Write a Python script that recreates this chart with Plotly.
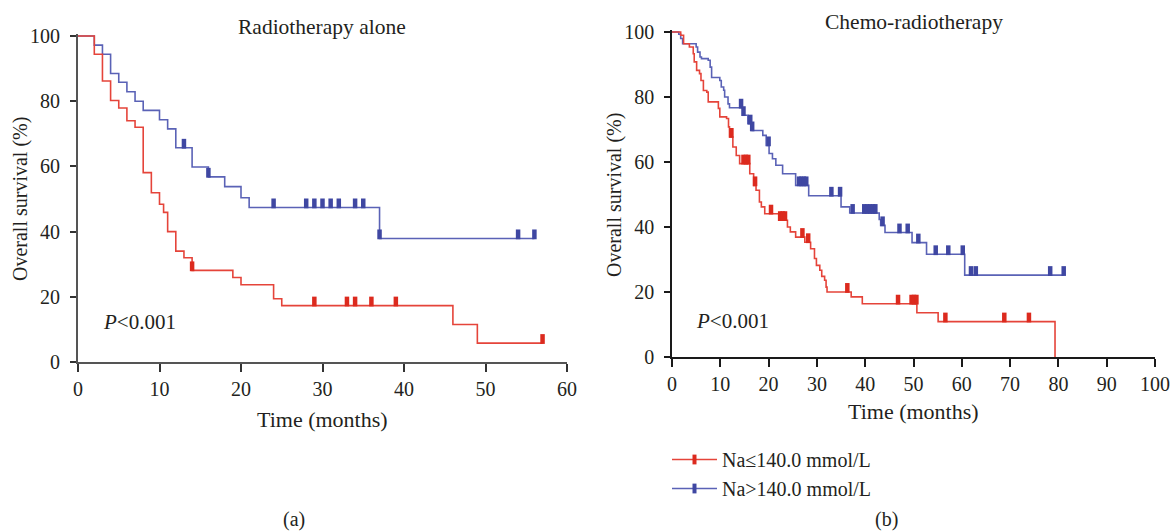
import plotly.graph_objects as go
from bisect import bisect_right

# ---------------- data ----------------
# Radiotherapy alone, Na<=140.0 mmol/L
rt_low_t = [0, 2, 3, 4, 5, 6, 7, 8, 9, 10, 10.5, 11, 12, 13, 14, 19, 20, 24, 25, 46, 49]
rt_low_s = [100, 94.4, 86.2, 80.2, 77.9, 74.0, 72.0, 58.1, 51.9, 48.4, 45.9, 40.0,
            34.0, 32.0, 28.1, 25.9, 23.7, 19.4, 17.3, 11.5, 5.8]
rt_low_cens = [14, 29, 33, 34, 36, 39, 57]
rt_low_end = 57

# Radiotherapy alone, Na>140.0 mmol/L
rt_high_t = [0, 2, 3, 4, 5, 6, 7, 8, 10, 11, 12, 14, 16, 18, 20, 21, 37]
rt_high_s = [100, 97.2, 94.4, 88.5, 85.8, 82.9, 80.0, 77.2, 74.3, 71.5, 65.7, 59.8,
             56.8, 53.8, 50.4, 47.4, 37.9]
rt_high_cens = [13, 16, 24, 28, 29, 30, 31, 32, 34, 35, 37, 54, 56]
rt_high_end = 56

# Chemo-radiotherapy, Na<=140.0 mmol/L
cr_low_t = [0, 1.8, 2.4, 3.6, 4.4, 4.6, 5.1, 5.7, 6.0, 6.5, 7.2, 7.5, 9.6, 9.9, 11.3,
            11.7, 11.9, 12.6, 13.3, 14.0, 16.1, 16.9, 17.4, 18.1, 18.5, 19.2, 22.1,
            23.9, 24.5, 25.6, 27.5, 28.7, 29.5, 29.9, 30.6, 31.0, 31.6, 31.9, 32.1,
            37.1, 39.4, 50.7, 55.1, 79.3]
cr_low_s = [100, 99.0, 96.4, 95.4, 93.3, 90.8, 88.2, 87.2, 85.1, 82.0, 81.5, 78.5, 76.5,
            73.9, 73.4, 70.8, 67.7, 64.6, 62.0, 59.5, 56.4, 52.8, 51.3, 47.7, 46.2, 44.1,
            42.1, 40.0, 38.5, 36.9, 35.3, 33.3, 30.3, 28.2, 26.7, 24.8, 23.6, 21.5, 20.0,
            18.5, 16.4, 13.6, 10.9, 0]
cr_low_cens = [12.3, 14.8, 15.3, 15.8, 17.2, 20.5, 22.4, 22.9, 23.4, 27.0, 28.2, 36.3,
               46.8, 49.6, 50.1, 50.6, 56.6, 68.8, 73.9]
cr_low_end = 79.3

# Chemo-radiotherapy, Na>140.0 mmol/L
cr_high_t = [0, 1.4, 1.8, 2.2, 5.0, 5.3, 5.8, 6.1, 7.5, 7.9, 8.2, 9.9, 10.2, 10.7, 10.9,
             11.6, 11.9, 14.7, 15.7, 16.6, 18.8, 19.5, 20.1, 20.8, 21.5, 22.9, 25.6,
             28.3, 35.0, 36.8, 42.9, 43.2, 44.1, 49.7, 52.7, 60.6]
cr_high_s = [100, 99.3, 98.0, 96.4, 95.4, 93.8, 92.3, 91.8, 91.3, 89.2, 86.0, 85.1, 83.1,
             82.1, 80.0, 77.9, 76.7, 74.4, 71.8, 69.7, 68.2, 65.1, 62.6, 61.0, 59.0, 56.4,
             52.8, 49.6, 46.2, 44.3, 42.3, 40.5, 38.3, 35.2, 31.6, 25.2]
cr_high_cens = [14.3, 14.8, 16.2, 16.6, 20.0, 26.3, 26.8, 27.3, 27.8, 33.0, 34.8, 37.4,
                39.8, 40.4, 41.0, 41.6, 42.1, 43.6, 47.1, 48.8, 51.0, 54.6, 57.2, 60.2,
                61.9, 62.9, 78.3, 81.1]
cr_high_end = 81.1

group_names = ["Na≤140.0 mmol/L", "Na>140.0 mmol/L"]
x_ticks_a = [0, 10, 20, 30, 40, 50, 60]
x_ticks_b = [0, 10, 20, 30, 40, 50, 60, 70, 80, 90, 100]
y_ticks = [0, 20, 40, 60, 80, 100]

# ---------------- styling ----------------
W, H = 1172, 531
FONT = "Liberation Serif"
TXT = "#231f20"
RED_LINE, RED_MARK = "#e5443a", "#dc2a1e"
BLUE_LINE, BLUE_MARK = "#5a62b6", "#3f47a2"
MARK_LIFT = 1.25  # censor ticks sit just above the curve (survival units)


def surv_at(times, surv, t):
    return surv[bisect_right(times, t) - 1]


def curve_traces(times, surv, cens, end, line_col, mark_col, xa, ya):
    xs = list(times) + ([end] if end > times[-1] else [])
    ys = list(surv) + ([surv[-1]] if end > times[-1] else [])
    line = go.Scatter(x=xs, y=ys, mode="lines", line=dict(color=line_col, width=1.6, shape="hv"),
                      xaxis=xa, yaxis=ya, showlegend=False, hoverinfo="skip")
    marks = go.Scatter(x=cens, y=[surv_at(times, surv, c) + MARK_LIFT for c in cens],
                       mode="markers",
                       marker=dict(symbol="line-ns", size=7, line=dict(color=mark_col, width=4.5)),
                       xaxis=xa, yaxis=ya, showlegend=False, hoverinfo="skip", cliponaxis=False)
    return [line, marks]


fig = go.Figure()
for tr in (curve_traces(rt_high_t, rt_high_s, rt_high_cens, rt_high_end, BLUE_LINE, BLUE_MARK, "x", "y")
           + curve_traces(rt_low_t, rt_low_s, rt_low_cens, rt_low_end, RED_LINE, RED_MARK, "x", "y")
           + curve_traces(cr_high_t, cr_high_s, cr_high_cens, cr_high_end, BLUE_LINE, BLUE_MARK, "x2", "y2")
           + curve_traces(cr_low_t, cr_low_s, cr_low_cens, cr_low_end, RED_LINE, RED_MARK, "x2", "y2")):
    fig.add_trace(tr)

# legend entries
for name, lc, mc in [(group_names[0], RED_LINE, RED_MARK), (group_names[1], BLUE_LINE, BLUE_MARK)]:
    fig.add_trace(go.Scatter(x=[None], y=[None], mode="lines+markers", name=name,
                             line=dict(color=lc, width=1.6),
                             marker=dict(symbol="line-ns", size=7, line=dict(color=mc, width=4)),
                             xaxis="x2", yaxis="y2"))

# plot areas in pixels
A_X0, A_X1, A_Y100, A_Y0 = 78, 567, 36, 362
B_X0, B_X1, B_Y100, B_Y0 = 672, 1155, 32, 357
Y_TOP = 100.7


def y_domain(y100, y0):
    per = (y0 - y100) / 100.0
    top = y0 - Y_TOP * per
    return [1 - y0 / H, 1 - top / H]


tick_font = dict(family=FONT, size=20, color=TXT)
common_x = dict(showgrid=False, zeroline=False, showline=True, ticks="outside", ticklen=8,
                tickwidth=1.5, tickfont=tick_font, automargin=False, ticklabeloverflow="allow")
common_y = dict(showgrid=False, zeroline=False, showline=True, ticks="outside", ticklen=6,
                tickwidth=1.5, tickfont=tick_font, tickvals=y_ticks, range=[0, Y_TOP],
                ticklabelstandoff=6, automargin=False, ticklabeloverflow="allow")

fig.update_layout(
    width=W, height=H, margin=dict(l=0, r=0, t=0, b=0),
    paper_bgcolor="white", plot_bgcolor="white",
    font=dict(family=FONT, size=20, color=TXT),
    xaxis=dict(domain=[A_X0 / W, A_X1 / W], range=[0, 60], tickvals=x_ticks_a, anchor="y",
               linecolor="#555555", linewidth=2.2, tickcolor="#333333", **common_x),
    yaxis=dict(domain=y_domain(A_Y100, A_Y0), anchor="x",
               linecolor="#555555", linewidth=2.2, tickcolor="#333333", **common_y),
    xaxis2=dict(domain=[B_X0 / W, B_X1 / W], range=[0, 100], tickvals=x_ticks_b, anchor="y2",
                linecolor="#1a1a1a", linewidth=1.5, tickcolor="#1a1a1a", **common_x),
    yaxis2=dict(domain=y_domain(B_Y100, B_Y0), anchor="x2",
                linecolor="#1a1a1a", linewidth=1.5, tickcolor="#1a1a1a", **common_y),
    legend=dict(x=667 / W, y=1 - 440 / H, xanchor="left", yanchor="top",
                bgcolor="rgba(0,0,0,0)", font=dict(family=FONT, size=20, color=TXT),
                tracegroupgap=0, itemwidth=45),
)


def note(text, px, py, size=20, angle=0, xanchor="center"):
    fig.add_annotation(text=text, x=px / W, y=1 - py / H, xref="paper", yref="paper",
                       showarrow=False, xanchor=xanchor, yanchor="middle", textangle=angle,
                       borderpad=0, font=dict(family=FONT, size=size, color=TXT))


note("Radiotherapy alone", 322, 27, size=21.5)
note("Chemo-radiotherapy", 914, 22, size=21.5)
note("Overall survival (%)", 20, 199, angle=-90)
note("Overall survival (%)", 614, 195, angle=-90)
note("Time (months)", 322, 419, size=22)
note("Time (months)", 914, 411, size=22)
note("<i>P</i>&lt;0.001", 102, 322, size=21, xanchor="left")
note("<i>P</i>&lt;0.001", 695, 321, size=21, xanchor="left")
note("(a)", 294, 519)
note("(b)", 886, 519)

fig.write_html("out.html")
